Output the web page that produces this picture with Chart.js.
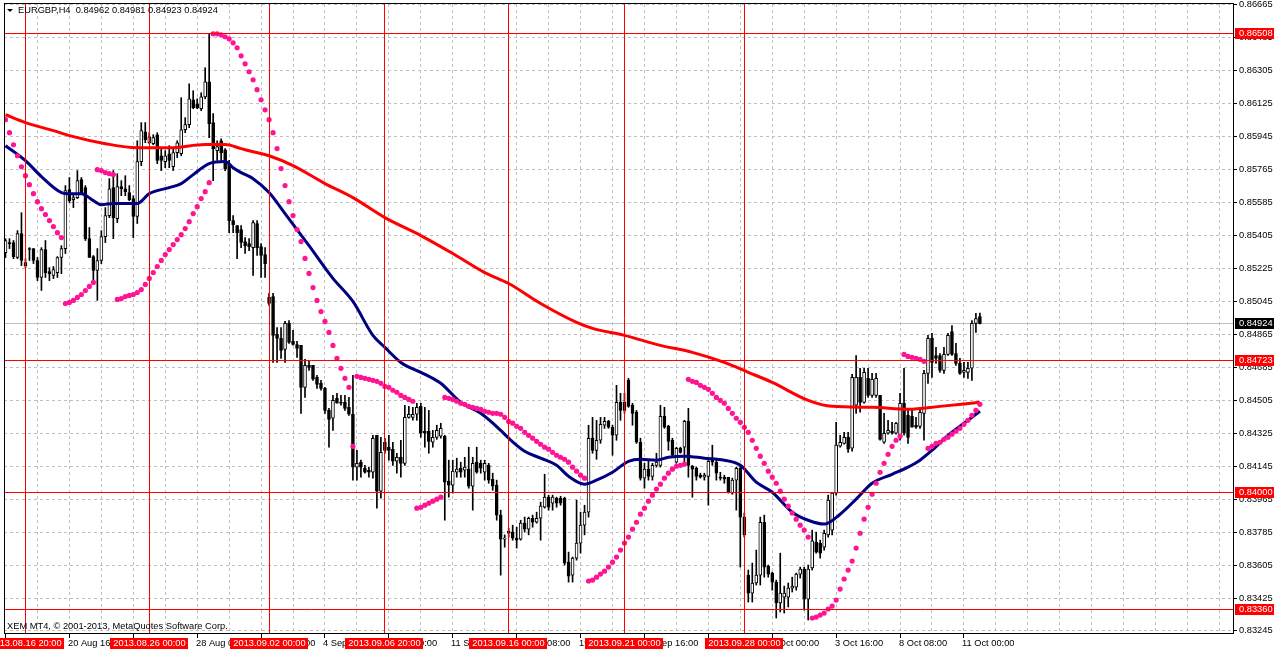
<!DOCTYPE html>
<html>
<head>
<meta charset="utf-8">
<title>EURGBP,H4</title>
<script src="https://cdn.jsdelivr.net/npm/chart.js@4.4.1/dist/chart.umd.min.js"></script>
<style>
  html, body { margin: 0; padding: 0; background: #fff; }
  #wrap { width: 1276px; height: 652px; position: relative; }
</style>
</head>
<body>
<div id="wrap"><canvas id="chart"></canvas></div>
<script>
// EURGBP H4 candles, one entry per bar (bar 0 = 2013.08.16)
const opens = [
  0.85312,0.85367,0.85367,0.85285,0.85416,0.85258,0.85334,0.85334,0.85269,0.85176,
  0.85329,0.85208,0.85187,0.85203,0.85285,0.85334,0.85656,0.85601,0.85612,0.85711,
  0.85667,0.85388,0.85290,0.85214,0.85269,0.85399,0.85514,0.85667,0.85498,0.85672,
  0.85661,0.85640,0.85607,0.85509,0.85809,0.85972,0.85912,0.85907,0.85956,0.85841,
  0.85809,0.85852,0.85781,0.85858,0.85852,0.85983,0.86011,0.86147,0.86125,0.86098,
  0.86163,0.86245,0.86022,0.85869,0.85923,0.85874,0.85798,0.85487,0.85460,0.85438,
  0.85372,0.85361,0.85339,0.85471,0.85345,0.85301,0.85067,0.85072,0.84865,0.84843,
  0.84783,0.84925,0.84827,0.84810,0.84806,0.84576,0.84696,0.84696,0.84630,0.84598,
  0.84570,0.84450,0.84407,0.84516,0.84494,0.84494,0.84467,0.84429,0.84140,0.84167,
  0.84134,0.84123,0.84112,0.84314,0.84009,0.84276,0.84249,0.84238,0.84172,0.84194,
  0.84161,0.84412,0.84412,0.84429,0.84472,0.84336,0.84336,0.84276,0.84303,0.84309,
  0.84309,0.84063,0.84041,0.84112,0.84134,0.84123,0.84129,0.84036,0.84167,0.84161,
  0.84112,0.84150,0.84074,0.84041,0.83878,0.83747,0.83790,0.83785,0.83752,0.83747,
  0.83834,0.83801,0.83861,0.83839,0.83861,0.83921,0.83976,0.83943,0.83970,0.83970,
  0.83970,0.83621,0.83550,0.83643,0.83725,0.83823,0.83894,0.84298,0.84232,0.84287,
  0.84369,0.84390,0.84358,0.84314,0.84494,0.84494,0.84614,0.84478,0.84440,0.84276,
  0.84080,0.84129,0.84090,0.84150,0.84150,0.84418,0.84363,0.84287,0.84167,0.84243,
  0.84249,0.84390,0.84145,0.84134,0.84096,0.84085,0.84090,0.84189,0.84167,0.84085,
  0.84085,0.84085,0.83998,0.84069,0.84134,0.83867,0.83550,0.83452,0.83507,0.83550,
  0.83839,0.83599,0.83561,0.83512,0.83398,0.83430,0.83430,0.83479,0.83485,0.83556,
  0.83583,0.83419,0.83589,0.83730,0.83725,0.83703,0.83770,0.83796,0.83998,0.84254,
  0.84270,0.84303,0.84243,0.84478,0.84630,0.84494,0.84625,0.84532,0.84532,0.84532,
  0.84276,0.84325,0.84336,0.84325,0.84303,0.84489,0.84423,0.84418,0.84369,0.84363,
  0.84434,0.84652,0.84843,0.84750,0.84750,0.84669,0.84756,0.84881,0.84761,0.84707,
  0.84658,0.84658,0.84680,0.84925,0.84962
];
const highs = [
  0.85388,0.85388,0.85378,0.85432,0.85530,0.85279,0.85339,0.85334,0.85285,0.85339,
  0.85378,0.85230,0.85236,0.85290,0.85350,0.85678,0.85722,0.85634,0.85760,0.85722,
  0.85678,0.85449,0.85296,0.85334,0.85432,0.85558,0.85716,0.85760,0.85743,0.85705,
  0.85732,0.85678,0.85623,0.85923,0.86022,0.86022,0.85967,0.85956,0.85967,0.85880,
  0.85869,0.85896,0.85880,0.85923,0.86158,0.86049,0.86234,0.86196,0.86152,0.86185,
  0.86322,0.86507,0.86071,0.85923,0.85934,0.85880,0.85816,0.85514,0.85460,0.85460,
  0.85394,0.85388,0.85487,0.85487,0.85361,0.85339,0.85089,0.85089,0.84903,0.84903,
  0.84936,0.84941,0.84887,0.84827,0.84806,0.84729,0.84723,0.84696,0.84641,0.84614,
  0.84576,0.84461,0.84532,0.84543,0.84532,0.84532,0.84521,0.84641,0.84232,0.84178,
  0.84150,0.84140,0.84314,0.84314,0.84303,0.84298,0.84314,0.84276,0.84216,0.84287,
  0.84478,0.84472,0.84467,0.84489,0.84489,0.84467,0.84450,0.84341,0.84369,0.84380,
  0.84314,0.84178,0.84178,0.84189,0.84167,0.84194,0.84249,0.84194,0.84249,0.84178,
  0.84178,0.84161,0.84107,0.84069,0.83905,0.83770,0.83807,0.83823,0.83812,0.83850,
  0.83867,0.83867,0.83878,0.83894,0.83949,0.84101,0.83987,0.83987,0.83976,0.83981,
  0.83976,0.83676,0.83649,0.83960,0.83894,0.83932,0.84369,0.84412,0.84396,0.84412,
  0.84412,0.84396,0.84369,0.84587,0.84543,0.84543,0.84625,0.84489,0.84450,0.84298,
  0.84161,0.84178,0.84161,0.84216,0.84478,0.84467,0.84369,0.84298,0.84249,0.84249,
  0.84396,0.84461,0.84150,0.84140,0.84107,0.84107,0.84178,0.84260,0.84178,0.84112,
  0.84096,0.84085,0.84080,0.84140,0.84150,0.83889,0.83578,0.83616,0.83687,0.83867,
  0.83878,0.83605,0.83567,0.83523,0.83670,0.83490,0.83507,0.83539,0.83561,0.83594,
  0.83594,0.83605,0.83796,0.83785,0.83741,0.83796,0.83987,0.84003,0.84385,0.84314,
  0.84330,0.84330,0.84647,0.84750,0.84680,0.84680,0.84680,0.84652,0.84652,0.84532,
  0.84434,0.84396,0.84385,0.84385,0.84543,0.84680,0.84450,0.84450,0.84412,0.84450,
  0.84669,0.84860,0.84871,0.84794,0.84761,0.84794,0.84871,0.84914,0.84816,0.84734,
  0.84712,0.84712,0.84941,0.84980,0.84981
];
const lows = [
  0.85285,0.85334,0.85279,0.85279,0.85241,0.85230,0.85269,0.85252,0.85159,0.85105,
  0.85176,0.85159,0.85170,0.85176,0.85197,0.85307,0.85585,0.85558,0.85607,0.85634,
  0.85378,0.85285,0.85159,0.85051,0.85252,0.85367,0.85503,0.85388,0.85476,0.85623,
  0.85623,0.85596,0.85394,0.85471,0.85787,0.85912,0.85907,0.85901,0.85798,0.85760,
  0.85776,0.85776,0.85760,0.85831,0.85841,0.85967,0.85994,0.86098,0.86098,0.86087,
  0.86152,0.85940,0.85705,0.85816,0.85816,0.85760,0.85421,0.85421,0.85279,0.85339,
  0.85307,0.85323,0.85187,0.85296,0.85176,0.85176,0.85023,0.84712,0.84712,0.84734,
  0.84712,0.84816,0.84806,0.84740,0.84434,0.84521,0.84669,0.84614,0.84570,0.84560,
  0.84434,0.84249,0.84341,0.84489,0.84478,0.84450,0.84423,0.84069,0.84069,0.84085,
  0.84107,0.84085,0.84080,0.83916,0.83970,0.84216,0.84178,0.84150,0.84107,0.84085,
  0.84150,0.84407,0.84396,0.84396,0.84303,0.84249,0.84216,0.84249,0.84292,0.84298,
  0.83850,0.83976,0.83998,0.84085,0.84085,0.84085,0.84025,0.83905,0.84107,0.84107,
  0.84069,0.84052,0.84014,0.83850,0.83550,0.83703,0.83758,0.83741,0.83698,0.83741,
  0.83785,0.83770,0.83812,0.83834,0.83741,0.83916,0.83905,0.83905,0.83921,0.83932,
  0.83605,0.83512,0.83512,0.83632,0.83670,0.83770,0.83867,0.84216,0.84183,0.84270,
  0.84352,0.84352,0.84205,0.84287,0.84396,0.84434,0.84467,0.84369,0.84270,0.84069,
  0.84025,0.84069,0.84069,0.84140,0.84140,0.84352,0.84232,0.84194,0.84161,0.84216,
  0.84150,0.84085,0.83976,0.84069,0.84080,0.84069,0.83932,0.84150,0.84069,0.84069,
  0.84052,0.83998,0.83992,0.83905,0.83594,0.83758,0.83403,0.83403,0.83496,0.83496,
  0.83539,0.83539,0.83468,0.83316,0.83349,0.83343,0.83376,0.83458,0.83468,0.83534,
  0.83359,0.83305,0.83578,0.83670,0.83643,0.83687,0.83758,0.83770,0.83987,0.84249,
  0.84265,0.84221,0.84227,0.84434,0.84440,0.84489,0.84521,0.84521,0.84521,0.84287,
  0.84270,0.84320,0.84320,0.84320,0.84287,0.84314,0.84270,0.84358,0.84352,0.84352,
  0.84287,0.84598,0.84630,0.84707,0.84658,0.84652,0.84750,0.84750,0.84696,0.84647,
  0.84630,0.84625,0.84614,0.84876,0.84923
];
const closes = [
  0.85378,0.85361,0.85290,0.85416,0.85269,0.85241,0.85329,0.85269,0.85176,0.85329,
  0.85203,0.85197,0.85219,0.85285,0.85334,0.85651,0.85596,0.85612,0.85705,0.85640,
  0.85388,0.85285,0.85214,0.85269,0.85399,0.85514,0.85661,0.85503,0.85672,0.85661,
  0.85645,0.85601,0.85509,0.85809,0.85978,0.85929,0.85945,0.85940,0.85816,0.85816,
  0.85841,0.85816,0.85858,0.85912,0.85983,0.86011,0.86152,0.86103,0.86103,0.86163,
  0.86245,0.86016,0.85880,0.85891,0.85858,0.85771,0.85487,0.85465,0.85421,0.85367,
  0.85350,0.85345,0.85476,0.85339,0.85296,0.85252,0.85034,0.84860,0.84843,0.84778,
  0.84925,0.84821,0.84810,0.84789,0.84576,0.84696,0.84685,0.84620,0.84592,0.84570,
  0.84450,0.84401,0.84505,0.84489,0.84489,0.84461,0.84429,0.84140,0.84161,0.84140,
  0.84112,0.84112,0.84298,0.84009,0.84221,0.84232,0.84232,0.84172,0.84194,0.84161,
  0.84412,0.84429,0.84429,0.84467,0.84325,0.84325,0.84281,0.84303,0.84341,0.84352,
  0.84058,0.84041,0.84118,0.84129,0.84112,0.84140,0.84036,0.84161,0.84112,0.84134,
  0.84161,0.84069,0.84036,0.83878,0.83747,0.83752,0.83779,0.83752,0.83741,0.83834,
  0.83801,0.83861,0.83839,0.83861,0.83927,0.83976,0.83921,0.83976,0.83943,0.83943,
  0.83616,0.83545,0.83643,0.83725,0.83823,0.83894,0.84298,0.84232,0.84287,0.84374,
  0.84390,0.84358,0.84314,0.84494,0.84450,0.84450,0.84472,0.84434,0.84276,0.84080,
  0.84129,0.84090,0.84150,0.84167,0.84418,0.84358,0.84281,0.84205,0.84243,0.84221,
  0.84390,0.84150,0.84129,0.84090,0.84085,0.84096,0.84172,0.84167,0.84107,0.84080,
  0.84074,0.84003,0.84069,0.84134,0.83867,0.83770,0.83452,0.83507,0.83550,0.83839,
  0.83594,0.83556,0.83512,0.83398,0.83452,0.83452,0.83479,0.83490,0.83556,0.83583,
  0.83419,0.83583,0.83738,0.83676,0.83670,0.83779,0.83960,0.83998,0.84260,0.84276,
  0.84303,0.84238,0.84630,0.84630,0.84494,0.84658,0.84532,0.84620,0.84625,0.84292,
  0.84325,0.84341,0.84325,0.84380,0.84489,0.84325,0.84303,0.84358,0.84358,0.84440,
  0.84652,0.84843,0.84712,0.84734,0.84669,0.84756,0.84860,0.84756,0.84707,0.84652,
  0.84669,0.84680,0.84925,0.84952,0.84924
];

// Parabolic SAR, one dot per bar
const sar = [
  0.86038,0.85967,0.85901,0.85841,0.85781,0.85732,0.85683,0.85634,0.85590,0.85552,
  0.85520,0.85487,0.85454,0.85421,0.85394,0.85034,0.85040,0.85051,0.85067,0.85083,
  0.85105,0.85127,0.85149,0.85765,0.85760,0.85749,0.85743,0.85738,0.85056,0.85061,
  0.85072,0.85078,0.85083,0.85094,0.85110,0.85138,0.85171,0.85203,0.85236,0.85269,
  0.85301,0.85329,0.85356,0.85383,0.85410,0.85443,0.85481,0.85525,0.85563,0.85607,
  0.85645,0.85694,0.86507,0.86507,0.86502,0.86491,0.86480,0.86458,0.86431,0.86387,
  0.86343,0.86300,0.86256,0.86202,0.86147,0.86092,0.86038,0.85967,0.85880,0.85771,
  0.85678,0.85590,0.85514,0.85438,0.85372,0.85280,0.85198,0.85121,0.85051,0.84990,
  0.84936,0.84876,0.84805,0.84734,0.84680,0.84625,0.84576,0.84254,0.84636,0.84630,
  0.84625,0.84620,0.84614,0.84609,0.84598,0.84581,0.84576,0.84560,0.84549,0.84532,
  0.84521,0.84510,0.84500,0.83916,0.83921,0.83932,0.83943,0.83954,0.83965,0.83976,
  0.84521,0.84516,0.84510,0.84500,0.84489,0.84483,0.84472,0.84467,0.84461,0.84456,
  0.84445,0.84440,0.84434,0.84434,0.84429,0.84412,0.84390,0.84380,0.84363,0.84352,
  0.84330,0.84314,0.84298,0.84281,0.84265,0.84249,0.84238,0.84221,0.84205,0.84194,
  0.84183,0.84167,0.84140,0.84118,0.84096,0.84080,0.83518,0.83523,0.83539,0.83556,
  0.83572,0.83594,0.83621,0.83649,0.83687,0.83725,0.83758,0.83801,0.83839,0.83883,
  0.83916,0.83954,0.83987,0.84020,0.84047,0.84080,0.84107,0.84129,0.84145,0.84150,
  0.84156,0.84620,0.84609,0.84603,0.84587,0.84576,0.84565,0.84543,0.84521,0.84505,
  0.84489,0.84461,0.84434,0.84407,0.84385,0.84358,0.84330,0.84287,0.84243,0.84200,
  0.84161,0.84118,0.84085,0.84052,0.84009,0.83965,0.83927,0.83889,0.83856,0.83823,
  0.83796,0.83758,0.83316,0.83321,0.83332,0.83343,0.83365,0.83381,0.83414,0.83474,
  0.83529,0.83578,0.83627,0.83698,0.83779,0.83856,0.83921,0.83992,0.84052,0.84112,
  0.84161,0.84210,0.84254,0.84287,0.84309,0.84756,0.84745,0.84740,0.84734,0.84729,
  0.84718,0.84243,0.84254,0.84270,0.84276,0.84292,0.84303,0.84320,0.84336,0.84352,
  0.84374,0.84396,0.84423,0.84450,0.84483
];

// slow moving average (red), read at these bars
const maSlowBars = [0,5,12,16,25,33,41,50,55,59,62,66,72,80,87,95,104,112,120,126,134,143,147,155,164,172,180,186,192,201,207,217,226,234,244];
const maSlow = [0.86065,0.86022,0.85978,0.85951,0.85907,0.85885,0.85885,0.85902,0.85902,0.85880,0.85863,0.85841,0.85787,0.85689,0.85612,0.85503,0.85405,0.85307,0.85203,0.85143,0.85034,0.84931,0.84898,0.84860,0.84805,0.84767,0.84712,0.84658,0.84603,0.84505,0.84472,0.84467,0.84456,0.84472,0.84494];

// fast moving average (navy), read at these bars
const maFastBars = [0,5,9,14,16,19,22,24,27,33,36,41,44,47,51,55,57,59,62,66,70,76,82,87,92,95,99,104,107,109,114,119,124,126,130,134,138,141,145,148,152,156,159,163,166,170,175,180,184,188,192,197,201,205,209,213,217,222,226,229,232,236,240,244];
const maFast = [0.85896,0.85814,0.85727,0.85640,0.85634,0.85634,0.85596,0.85574,0.85580,0.85580,0.85634,0.85667,0.85689,0.85738,0.85798,0.85809,0.85776,0.85749,0.85716,0.85640,0.85525,0.85350,0.85171,0.85045,0.84860,0.84794,0.84712,0.84658,0.84625,0.84598,0.84494,0.84434,0.84341,0.84298,0.84227,0.84189,0.84150,0.84090,0.84047,0.84069,0.84112,0.84172,0.84183,0.84178,0.84194,0.84200,0.84189,0.84178,0.84150,0.84058,0.84003,0.83894,0.83850,0.83829,0.83883,0.83965,0.84052,0.84101,0.84140,0.84178,0.84232,0.84314,0.84380,0.84445];

// price axis ticks
const yTicks = [0.86665,0.86485,0.86305,0.86125,0.85945,0.85765,0.85585,0.85405,0.85225,0.85045,0.84865,0.84685,0.84505,0.84325,0.84145,0.83965,0.83785,0.83605,0.83425,0.83245];

// time axis labels
const xTickBars = [0,16,32,48,64,80,96,112,128,144,160,176,192,208,224,240];
const xTickText = ['16 Aug 2013','20 Aug 16:00','23 Aug 08:00','28 Aug 00:00','30 Aug 16:00','4 Sep 08:00','9 Sep 00:00','11 Sep 16:00','16 Sep 08:00','19 Sep 00:00','23 Sep 16:00','26 Sep 08:00','1 Oct 00:00','3 Oct 16:00','8 Oct 08:00','11 Oct 00:00'];

// drawn objects
const vLineBars = [5,36,66,95,126,155,185];
const vLineText = ['2013.08.16 20:00','2013.08.26 00:00','2013.09.02 00:00','2013.09.06 20:00','2013.09.16 00:00','2013.09.21 00:00','2013.09.28 00:00'];
const hLines = [0.86508,0.84723,0.84000,0.83360];
const bid = 0.84924;

const FONT = '9.3px "Liberation Sans", Arial, sans-serif';

const mt4 = {
  id: 'mt4',
  beforeDraw(chart) {
    const c = chart.ctx;
    c.save();
    c.fillStyle = '#ffffff';
    c.fillRect(0, 0, chart.width, chart.height);
    c.restore();
  },
  beforeDatasetsDraw(chart) {
    const { ctx: c, chartArea: a, scales: { x, y } } = chart;
    c.save();
    c.strokeStyle = '#c0c0c0';
    c.lineWidth = 1;
    c.setLineDash([3, 3]);
    c.beginPath();
    yTicks.forEach(v => {
      const py = Math.floor(y.getPixelForValue(v)) + 0.5;
      c.moveTo(a.left, py); c.lineTo(a.right, py);
    });
    for (let b = 8; x.getPixelForValue(b) < a.right; b += 8) {
      const px = Math.floor(x.getPixelForValue(b)) + 0.5;
      c.moveTo(px, a.top); c.lineTo(px, a.bottom);
    }
    c.stroke();
    c.setLineDash([]);
    const by = Math.floor(y.getPixelForValue(bid)) + 0.5;
    c.beginPath(); c.moveTo(a.left, by); c.lineTo(a.right, by); c.stroke();
    c.restore();
  },
  afterDatasetsDraw(chart) {
    const { ctx: c, chartArea: a, scales: { x, y } } = chart;
    c.save();
    c.strokeStyle = '#ff0000';
    c.lineWidth = 1;
    c.beginPath();
    hLines.forEach(v => {
      const py = Math.floor(y.getPixelForValue(v)) + 0.5;
      c.moveTo(a.left, py); c.lineTo(a.right, py);
    });
    vLineBars.forEach(b => {
      const px = Math.floor(x.getPixelForValue(b)) + 0.5;
      c.moveTo(px, a.top); c.lineTo(px, a.bottom);
    });
    c.stroke();
    c.restore();
  },
  afterDraw(chart) {
    const { ctx: c, chartArea: a, scales: { x, y } } = chart;
    c.save();
    // frame
    c.strokeStyle = '#000000';
    c.lineWidth = 1;
    c.strokeRect(a.left + 0.5, a.top - 0.5, a.right - a.left, a.bottom - a.top + 1);

    c.font = FONT;
    c.fillStyle = '#000000';
    c.textBaseline = 'middle';

    // price axis
    c.textAlign = 'left';
    c.beginPath();
    yTicks.forEach(v => {
      const py = Math.floor(y.getPixelForValue(v)) + 0.5;
      c.moveTo(a.right + 1, py); c.lineTo(a.right + 4, py);
      c.fillText(v.toFixed(5), a.right + 6, py);
    });
    // time axis
    xTickBars.forEach((b, k) => {
      const px = Math.floor(x.getPixelForValue(b)) + 0.5;
      c.moveTo(px, a.bottom + 1); c.lineTo(px, a.bottom + 5);
      c.fillText(xTickText[k], px - 1.5, a.bottom + 10.5);
    });
    c.stroke();

    // time labels of vertical lines
    c.textAlign = 'center';
    vLineBars.forEach((b, k) => {
      const px = Math.floor(x.getPixelForValue(b)) + 0.5;
      const w = c.measureText(vLineText[k]).width + 6;
      c.fillStyle = '#ff0000';
      c.fillRect(Math.round(px - w / 2), a.bottom + 5, Math.round(w), 11);
      c.fillStyle = '#ffffff';
      c.fillText(vLineText[k], px, a.bottom + 10.5);
    });

    // price labels of horizontal lines and bid
    const tag = (v, bg) => {
      const py = Math.floor(y.getPixelForValue(v)) + 0.5;
      c.fillStyle = bg;
      c.fillRect(a.right + 2, Math.round(py - 5.5), 39, 11);
      c.fillStyle = '#ffffff';
      c.textAlign = 'left';
      c.fillText(v.toFixed(5), a.right + 6, py);
    };
    hLines.forEach(v => tag(v, '#ff0000'));
    tag(bid, '#000000');

    // header and copyright
    c.fillStyle = '#000000';
    c.beginPath();
    c.moveTo(7, 9); c.lineTo(13, 9); c.lineTo(10, 12); c.closePath();
    c.fill();
    c.textAlign = 'left';
    c.fillText('EURGBP,H4  0.84962 0.84981 0.84923 0.84924', 18, 10.5);
    c.fillText('XEM MT4, \u00a9 2001-2013, MetaQuotes Software Corp.', 7, 626.5);
    c.restore();
  }
};

const bars = opens.map((_, i) => i);

new Chart(document.getElementById('chart'), {
  type: 'bar',
  data: {
    datasets: [
      {
        type: 'line',
        label: 'Parabolic SAR',
        data: sar.map((v, i) => ({ x: i, y: v })),
        showLine: false,
        pointStyle: 'circle',
        pointRadius: 2.6,
        pointBorderWidth: 0,
        pointBackgroundColor: '#ff1493',
        order: 1
      },
      {
        type: 'line',
        label: 'MA fast',
        data: maFastBars.map((b, k) => ({ x: b, y: maFast[k] })),
        borderColor: '#000080',
        borderWidth: 3,
        pointRadius: 0,
        cubicInterpolationMode: 'monotone',
        order: 2
      },
      {
        type: 'line',
        label: 'MA slow',
        data: maSlowBars.map((b, k) => ({ x: b, y: maSlow[k] })),
        borderColor: '#ff0000',
        borderWidth: 3,
        pointRadius: 0,
        cubicInterpolationMode: 'monotone',
        order: 3
      },
      {
        label: 'body',
        data: bars.map(i => ({ x: i, y: [opens[i], closes[i]] })),
        backgroundColor: bars.map(i => closes[i] >= opens[i] ? '#ffffff' : '#000000'),
        borderColor: '#000000',
        borderWidth: 1,
        borderSkipped: false,
        barThickness: 3,
        minBarLength: 1,
        grouped: false,
        order: 4
      },
      {
        label: 'wick',
        data: bars.map(i => ({ x: i, y: [lows[i], highs[i]] })),
        backgroundColor: '#000000',
        barThickness: 1,
        grouped: false,
        order: 5
      }
    ]
  },
  options: {
    responsive: true,
    maintainAspectRatio: false,
    animation: false,
    events: [],
    layout: { padding: { left: 2, top: 3, right: 43, bottom: 19 } },
    plugins: { legend: { display: false }, tooltip: { enabled: false } },
    scales: {
      x: { type: 'linear', min: -0.375, max: 307.375, offset: false, display: false },
      y: { type: 'linear', min: 0.83234, max: 0.86670, display: false }
    }
  },
  plugins: [mt4]
});
</script>
</body>
</html>
